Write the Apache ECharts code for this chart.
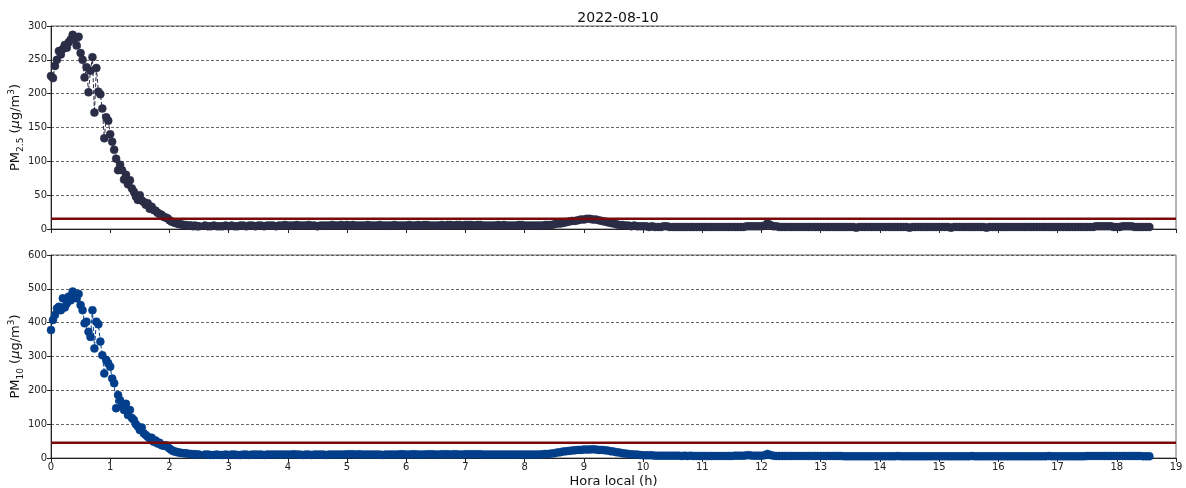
<!DOCTYPE html>
<html>
<head>
<meta charset="utf-8">
<script src="https://cdn.jsdelivr.net/npm/echarts@6/dist/echarts.min.js"></script>
<style>html,body{margin:0;padding:0;background:#fff}#c{width:1186px;height:488px}</style>
</head>
<body>
<div id="c"></div>
<script>
// Time: first segment every 2 minutes from 0 to 150 min; second segment every 0.05 h from 2.6 h to 18.55 h
const seg1StepMin = 2;
const seg2Start = 2.6, seg2Step = 0.05;

const pm25Seg1 = [226,223,241,250,263,258,266,272,268,276,
  280,287,281,271,284,260,250,224,239,202,
  234,254,172,238,203,199,178,134,165,160,
  140,129,117,104,87,95,87,73,80,66,
  72,60,55,48,43,50,42,40,36,38,
  30,33,28,27,24,22,21,18,17,16,
  13,11,10,9,8,7,7,6,6,5,
  5,5,4,5,4,4];
const pm25Seg2 = [5,4,4,5,4,4,4,5,
  4,5,4,4,5,5,4,5,5,4,5,5,4,5,5,5,4,5,5,6,
  5,5,5,6,5,5,5,6,5,5,4,5,5,5,5,6,5,5,6,5,
  6,5,6,5,5,5,5,6,5,5,5,6,5,5,5,5,6,5,5,5,
  5,6,5,5,6,5,6,6,5,5,5,5,6,5,6,6,5,6,6,5,
  6,6,6,5,6,6,5,5,5,5,5,6,5,6,5,5,5,5,6,6,
  5,5,5,5,5,5,5,6,6,6,7,8,8,9,10,11,12,12,13,14,
  14,15,15,14,14,13,12,11,10,9,8,7,6,6,5,5,4,5,4,4,
  4,4,3,4,3,3,3,4,4,3,3,3,3,3,3,3,3,3,3,3,
  3,3,3,3,3,3,3,3,3,3,3,3,3,3,3,4,4,4,4,4,
  4,5,8,6,4,4,3,3,3,3,3,3,3,3,3,3,3,3,3,3,
  3,3,3,3,3,3,3,3,3,3,3,3,2,3,3,3,3,3,3,3,
  3,3,3,3,3,3,3,3,3,3,2,3,3,3,3,3,3,3,3,3,
  3,3,3,3,2,3,3,3,3,3,3,3,3,3,3,3,2,3,3,3,
  3,3,3,3,3,3,3,3,3,3,3,3,3,3,3,3,3,3,3,3,
  3,3,3,3,3,3,3,3,3,3,3,3,3,4,4,4,4,4,4,3,
  3,3,4,4,4,4,3,3,3,3,3,3];

const pm10Seg1 = [378,408,423,442,447,437,472,445,457,477,
  466,492,482,472,485,452,437,398,403,373,
  358,437,324,403,395,344,304,250,290,280,
  270,235,221,147,186,171,157,142,160,127,
  142,118,112,100,93,83,90,73,68,63,
  58,60,48,52,43,45,38,36,38,33,
  28,24,20,19,17,16,15,14,14,13,
  12,12,11,11,10,10];
const pm10Seg2 = [10,10,9,9,10,9,9,10,
  9,10,10,9,9,10,10,9,10,10,10,10,9,10,10,10,10,10,10,10,
  10,10,11,10,10,9,10,10,9,10,10,10,10,9,10,10,10,10,10,10,
  11,11,11,10,11,10,10,10,10,10,10,10,9,10,10,10,10,10,11,11,
  10,10,11,11,10,10,10,11,11,11,10,10,11,11,11,10,11,11,10,10,
  11,11,11,11,11,11,10,10,10,10,10,10,10,10,10,10,10,10,10,10,
  10,10,10,10,10,10,11,12,12,13,14,16,17,19,20,21,22,23,24,24,
  25,25,25,26,25,24,24,23,22,20,19,17,16,14,13,12,11,10,10,9,
  8,8,8,8,7,7,7,7,7,7,7,7,7,6,7,6,7,6,6,6,
  6,6,6,6,6,6,6,6,6,6,6,7,7,7,7,8,8,7,7,7,
  7,8,12,9,7,6,6,6,6,6,6,6,6,6,6,6,6,6,6,6,
  6,6,6,6,6,6,6,6,5,5,5,5,5,5,5,5,5,5,5,5,
  5,5,5,5,5,5,6,5,5,5,5,5,5,5,5,5,5,5,5,5,
  5,5,5,5,5,5,5,5,5,5,5,6,5,5,5,5,5,5,5,5,
  5,5,5,5,5,5,5,5,5,5,5,5,5,5,5,5,5,6,5,5,
  5,5,5,5,5,5,5,5,5,5,6,6,6,6,6,6,6,6,6,6,
  6,6,6,6,6,6,6,6,6,5,5,5];

const limits = [15, 45];
const xTicks = [0,19,1];
const y1Ticks = [0,300,50];
const y2Ticks = [0,600,100];
const title = '2022-08-10';

function build(s1, s2){
  const out = [];
  s1.forEach((v,i)=>out.push([i*seg1StepMin/60, v]));
  s2.forEach((v,i)=>out.push([+(seg2Start + i*seg2Step).toFixed(3), v]));
  return out;
}
const pm25 = build(pm25Seg1, pm25Seg2);
const pm10 = build(pm10Seg1, pm10Seg2);

const FONT = 'DejaVu Sans';
const c1 = '#2b2d47', c2 = '#023e8a', cr = '#7a0a0a';

function xAx(idx, showLabels, name){
  return {
    type:'value', gridIndex:idx, min:xTicks[0], max:xTicks[1], interval:xTicks[2],
    axisLine:{show:true, onZero:false, lineStyle:{color:'#222', width:1}},
    axisTick:{show:true, length:4, lineStyle:{color:'#222'}},
    axisLabel:{show:showLabels, color:'#222', fontFamily:FONT, fontSize:10, margin:4},
    splitLine:{show:false},
    name:name||'', nameLocation:'middle', nameGap:17, nameMoveOverlap:false,
    nameTextStyle:{fontFamily:FONT, fontSize:13, color:'#111'}
  };
}
function yAx(idx, t, sub){
  return {
    type:'value', gridIndex:idx, min:t[0], max:t[1], interval:t[2],
    axisLine:{show:true, lineStyle:{color:'#222', width:1}},
    axisTick:{show:true, length:4, lineStyle:{color:'#222'}},
    axisLabel:{color:'#222', fontFamily:FONT, fontSize:10, margin:4},
    splitLine:{show:true, lineStyle:{color:'#444', width:0.8, type:[3,2]}},
    name:'{a|PM}{s|' + sub + '}{a| (}{m|μ}{a|g/m}{p|3}{a|)}',
    nameLocation:'middle', nameRotate:90, nameGap:26, nameMoveOverlap:false,
    nameTextStyle:{
      rich:{
        a:{fontFamily:FONT, fontSize:13, color:'#111', lineHeight:18},
        m:{fontFamily:FONT, fontSize:13, color:'#111', fontStyle:'italic', lineHeight:18},
        s:{fontFamily:FONT, fontSize:9, color:'#111', lineHeight:12, verticalAlign:'bottom'},
        p:{fontFamily:FONT, fontSize:9, color:'#111', lineHeight:12, verticalAlign:'top'}
      }
    }
  };
}
function dataSeries(idx, data, color){
  return {
    type:'line', xAxisIndex:idx, yAxisIndex:idx, data:data,
    symbol:'circle', symbolSize:8, showSymbol:true, showAllSymbol:true,
    itemStyle:{color:color, borderColor:color, borderWidth:0.5},
    lineStyle:{color:color, width:1, type:[4,2]},
    z:2, silent:true
  };
}
function limitSeries(idx, v){
  return {
    type:'line', xAxisIndex:idx, yAxisIndex:idx,
    data:[[xTicks[0], v],[xTicks[1], v]],
    symbol:'none', lineStyle:{color:cr, width:2.5}, z:5, silent:true
  };
}

const chart = echarts.init(document.getElementById('c'), null, {renderer:'canvas'});
chart.setOption({
  animation:false,
  backgroundColor:'#fff',
  title:{text:title, left:613, top:6, textAlign:'center',
    textStyle:{fontFamily:FONT, fontSize:14, fontWeight:'normal', color:'#111'}},
  grid:[
    {left:51, right:10, top:26, height:203, show:true, borderColor:'#666', borderWidth:1, containLabel:false, outerBoundsMode:'none'},
    {left:51, right:10, top:255, height:203, show:true, borderColor:'#666', borderWidth:1, containLabel:false, outerBoundsMode:'none'}
  ],
  xAxis:[xAx(0,false), xAx(1,true,'Hora local (h)')],
  yAxis:[yAx(0,y1Ticks,'2.5'), yAx(1,y2Ticks,'10')],
  series:[
    dataSeries(0, pm25, c1), limitSeries(0, limits[0]),
    dataSeries(1, pm10, c2), limitSeries(1, limits[1])
  ]
});
</script>
</body>
</html>
